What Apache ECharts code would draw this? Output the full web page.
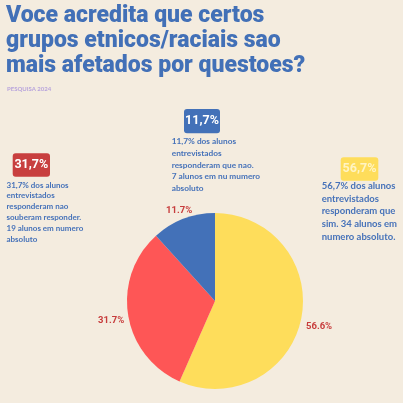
<!DOCTYPE html>
<html><head><meta charset="utf-8">
<script src="https://cdn.jsdelivr.net/npm/echarts@6/dist/echarts.min.js"></script>
<style>html,body{margin:0;padding:0;background:#f4ecdf;}#c{width:403px;height:403px;}</style>
</head><body><div id="c"></div>
<script>
var titleLines = ['Voce acredita que certos', 'grupos etnicos/raciais sao', 'mais afetados por questoes?'];
var subtitle = 'PESQUISA 2024';
var categories = ['Sim', 'Nao souberam responder', 'Nao'];
var values = [56.6, 31.7, 11.7];
var colors = ['#fedd5b', '#fe5656', '#4371b8'];
var boxLabels = ['56,7%', '31,7%', '11,7%'];
var boxColors = ['#fedd5b', '#c83f3f', '#4371b8'];
var boxTextColors = ['#fff4c4', '#ffffff', '#ffffff'];
var descriptions = [
  ['56,7% dos alunos', 'entrevistados', 'responderam que', 'sim. 34 alunos em', 'numero absoluto.'],
  ['31,7% dos alunos', 'entrevistados', 'responderam nao', 'souberam responder.', '19 alunos em numero', 'absoluto'],
  ['11,7% dos alunos', 'entrevistados', 'responderam que nao.', '7 alunos em nu mumero', 'absoluto']
];
var FONT = 'Lato';
var TFONT = 'Roboto';
var BLUE = '#4672b9';

// layout (positions only)
var boxPos = [[340.7, 157.3, 37.6, 23.4], [12.7, 153.3, 37.3, 23.4], [184, 109, 36, 24.3]];
var descPos = [[321.7, 179.6, 9.5, 12.7], [6.5, 179.6, 8, 10.8], [171.7, 135.9, 8.3, 11.65]];
var labelShift = [[-6, 6], [7, 5], [16, -3]];

var graphics = [];
graphics.push({
  type: 'text', left: 6, top: 4,
  style: { text: titleLines.join('\n'), fill: '#4270b7', font: '900 23px ' + TFONT, lineHeight: 25 }
});
graphics.push({
  type: 'text', left: 7, top: 86,
  style: { text: subtitle, fill: '#b8a4dc', font: 'bold 6px ' + FONT }
});
for (var i = 0; i < boxLabels.length; i++) {
  var b = boxPos[i];
  graphics.push({
    type: 'rect', shape: { x: b[0], y: b[1], width: b[2], height: b[3], r: 3 },
    style: { fill: boxColors[i] }
  });
  graphics.push({
    type: 'text', x: b[0] + b[2] / 2, y: b[1] + b[3] / 2,
    style: { text: boxLabels[i], fill: boxTextColors[i], font: 'bold 12.5px ' + TFONT, align: 'center', verticalAlign: 'middle' }
  });
  var d = descPos[i];
  graphics.push({
    type: 'text', x: d[0], y: d[1],
    style: { text: descriptions[i].join('\n'), fill: BLUE, font: 'bold ' + d[2] + 'px ' + FONT, lineHeight: d[3], verticalAlign: 'top' }
  });
}

var chart = echarts.init(document.getElementById('c'), null, { renderer: 'canvas' });
chart.setOption({
  backgroundColor: '#f4ecdf',
  animation: false,
  graphic: graphics,
  series: [{
    type: 'pie',
    center: [215, 301],
    radius: 88,
    startAngle: 90,
    clockwise: true,
    data: categories.map(function (c, i) { return { name: c, value: values[i], itemStyle: { color: colors[i] } }; }),
    label: {
      show: true, position: 'outside', formatter: '{c}%',
      color: '#c73c3c', fontFamily: TFONT, fontWeight: 'bold', fontSize: 9.5
    },
    labelLine: { show: false, length: 6, length2: 0 },
    labelLayout: function (p) { return { dx: labelShift[p.dataIndex][0], dy: labelShift[p.dataIndex][1] }; },
    itemStyle: { borderWidth: 0 }
  }]
});
</script></body></html>
